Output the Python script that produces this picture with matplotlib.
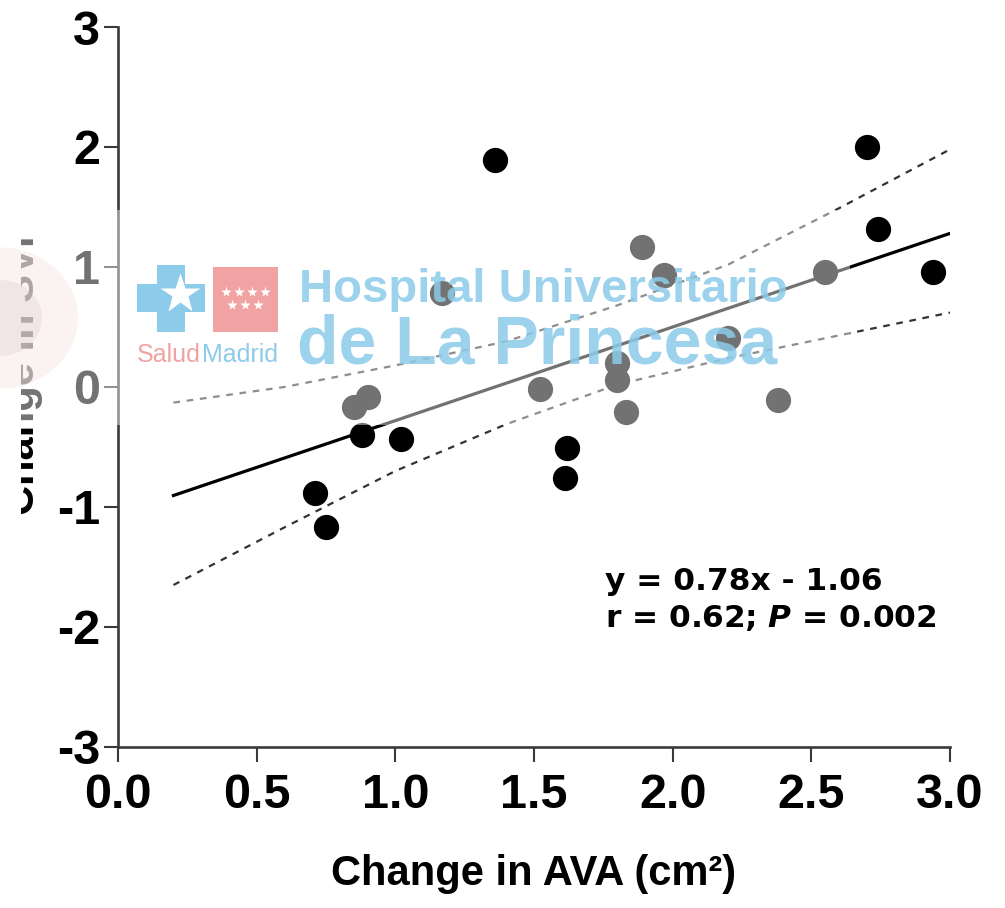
import matplotlib
matplotlib.use("Agg")
import matplotlib.pyplot as plt
from matplotlib.patches import Rectangle, Polygon, Circle
from matplotlib.lines import Line2D

# data
ava_change = [0.71, 0.75, 0.85, 0.90, 0.88, 1.02, 1.17, 1.36, 1.52, 1.62, 1.61,
              1.80, 1.80, 1.83, 1.89, 1.97, 2.20, 2.38, 2.55, 2.70, 2.74, 2.94]
y_change = [-0.88, -1.17, -0.17, -0.08, -0.40, -0.43, 0.78, 1.89, -0.02, -0.51, -0.76,
            0.20, 0.06, -0.21, 1.17, 0.93, 0.41, -0.11, 0.96, 2.00, 1.32, 0.96]

slope, intercept = 0.78, -1.06
fit_x = [0.2, 3.0]

band_x = [0.2, 0.6, 1.0, 1.4, 1.8, 2.2, 2.6, 3.0]
band_upper = [-0.13, 0.00, 0.18, 0.38, 0.68, 1.02, 1.49, 1.98]
band_lower = [-1.65, -1.17, -0.70, -0.31, 0.02, 0.24, 0.43, 0.62]

xticks = [0.0, 0.5, 1.0, 1.5, 2.0, 2.5, 3.0]
yticks = [-3, -2, -1, 0, 1, 2, 3]

sans = ['Liberation Sans', 'DejaVu Sans']
plt.rcParams['mathtext.fontset'] = 'custom'
plt.rcParams['mathtext.rm'] = 'DejaVu Sans:bold'
plt.rcParams['mathtext.it'] = 'DejaVu Sans:italic:bold'
plt.rcParams['mathtext.bf'] = 'DejaVu Sans:bold'

W, H = 1005, 908
fig = plt.figure(figsize=(W / 100, H / 100), dpi=100)


def fp(x, y):
    # pixel position -> figure fraction
    return x / W, 1 - y / H


ax = fig.add_axes([118 / W, 1 - 747 / H, (950 - 118) / W, (747 - 27) / H])

ax.scatter(ava_change, y_change, s=330, color='black', zorder=3, linewidths=0)
fit_y = [slope * v + intercept for v in fit_x]
ax.plot(fit_x, fit_y, color='black', lw=2.3, zorder=2)
ax.plot(band_x, band_upper, color='#333333', lw=1.6, ls=(0, (3, 3)), zorder=2)
ax.plot(band_x, band_lower, color='#333333', lw=1.6, ls=(0, (3, 3)), zorder=2)

ax.set_xlim(0, 3)
ax.set_ylim(-3, 3)
ax.set_xticks(xticks)
ax.set_xticklabels([f'{v:.1f}' for v in xticks])
ax.set_yticks(yticks)
ax.set_yticklabels([str(v) for v in yticks])
for side in ['top', 'right']:
    ax.spines[side].set_visible(False)
for side in ['left', 'bottom']:
    ax.spines[side].set_linewidth(1.9)
    ax.spines[side].set_color('#3a3a3a')
ax.tick_params(axis='x', length=11, width=1.5, color='#3a3a3a', pad=8)
ax.tick_params(axis='y', length=10, width=1.5, color='#3a3a3a', pad=3)
for lab in ax.get_xticklabels() + ax.get_yticklabels():
    lab.set_family(sans)
    lab.set_fontweight('bold')
    lab.set_fontsize(35)

ax.set_xlabel('Change in AVA (cm²)', family=sans, fontweight='bold',
              fontsize=30, labelpad=26)

ax.text(0.585, 0.218, 'y = 0.78x - 1.06', transform=ax.transAxes,
        family='DejaVu Sans', fontweight='bold', fontsize=22.5, va='baseline')
ax.text(0.585, 0.167, r'r = 0.62; $P$ = 0.002', transform=ax.transAxes,
        family='DejaVu Sans', fontweight='bold', fontsize=22.5, va='baseline')

# y label, cut at the left edge of the picture
fig.text(*fp(43, 515), 'Change in SVi', rotation=90, ha='right', va='bottom',
         family=sans, fontweight='bold', fontsize=30, zorder=0.8)
fig.add_artist(Rectangle((0, 0), 21 / W, 1, transform=fig.transFigure,
                         facecolor='white', edgecolor='none', zorder=0.9))

# faint reddish blob from the watermark at the left edge
fig.add_artist(Circle(fp(0, 318), 78 / W, transform=fig.transFigure,
                      facecolor='#f2cccc', edgecolor='none', alpha=0.45, zorder=0.95))
fig.add_artist(Circle(fp(0, 318), 42 / W, transform=fig.transFigure,
                      facecolor='#a07a7a', edgecolor='none', alpha=0.2, zorder=0.95))

# translucent white band of the watermark
fig.add_artist(Rectangle(fp(0, 425), 850 / W, 215 / H, transform=fig.transFigure,
                         facecolor='white', edgecolor='none', alpha=0.45, zorder=1))

blue = '#8ccbea'
pink = '#f1a3a3'
cross = [(157, 265), (185, 265), (185, 284), (205, 284), (205, 312), (185, 312),
         (185, 332), (157, 332), (157, 312), (137, 312), (137, 284), (157, 284)]
fig.add_artist(Polygon([fp(*p) for p in cross], closed=True, transform=fig.transFigure,
                       facecolor=blue, edgecolor='none', zorder=2))
fig.add_artist(Line2D([fp(180, 294)[0]], [fp(180, 294)[1]], marker='*', markersize=30,
                      color='white', markeredgecolor='none', transform=fig.transFigure,
                      zorder=2.5))
fig.add_artist(Rectangle(fp(213, 332), 65 / W, 65 / H, transform=fig.transFigure,
                         facecolor=pink, edgecolor='none', zorder=2))
for sx, sy in [(226, 292), (239, 292), (252, 292), (265, 292),
               (232, 305), (245, 305), (258, 305)]:
    fig.add_artist(Line2D([fp(sx, sy)[0]], [fp(sx, sy)[1]], marker='*', markersize=8,
                          color='white', markeredgecolor='none',
                          transform=fig.transFigure, zorder=2.5))
fig.text(*fp(137, 362), 'Salud', color=pink, family='Liberation Sans', fontsize=18,
         va='baseline', zorder=3)
fig.text(*fp(202, 362), 'Madrid', color=blue, family='Liberation Sans', fontsize=18,
         va='baseline', zorder=3)
fig.text(*fp(299, 302), 'Hospital Universitario', color=blue, alpha=0.85,
         family='Liberation Sans', fontweight='bold', fontsize=34, va='baseline', zorder=3)
fig.text(*fp(297, 364), 'de La Princesa', color=blue, alpha=0.85,
         family='Liberation Sans', fontweight='bold', fontsize=49, va='baseline', zorder=3)

fig.savefig('out.png', dpi=100)
